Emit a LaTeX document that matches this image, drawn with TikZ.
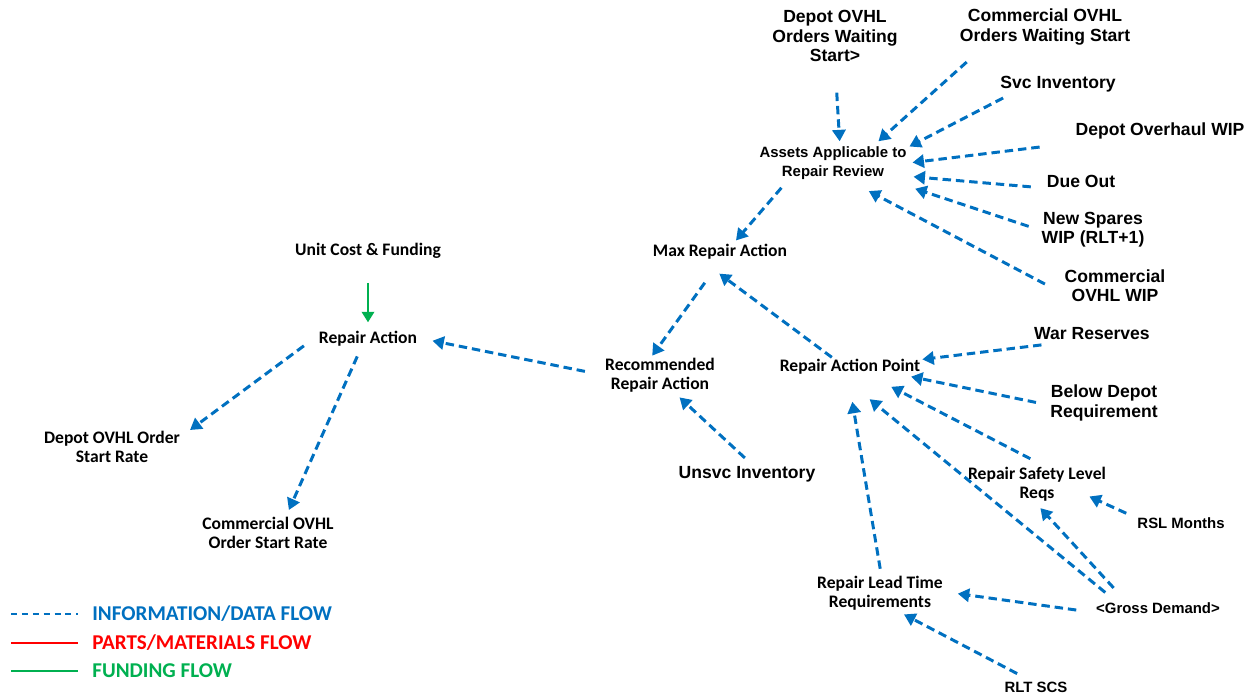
\documentclass[tikz,border=0pt]{standalone}
\usepackage{fontspec}
\setmainfont{Liberation Sans}
\newfontfamily\calfont{Carlito}
\usetikzlibrary{arrows.meta}
\definecolor{infoblue}{RGB}{0,112,192}
\definecolor{partsred}{RGB}{255,0,0}
\definecolor{fundgreen}{RGB}{0,176,80}
\begin{document}
\begin{tikzpicture}[x=0.02cm,y=-0.02cm,
  arl/.style={font=\bfseries\fontsize{10}{11}\selectfont, align=center, inner sep=1pt},
  arls/.style={font=\bfseries\fontsize{8.5}{11}\selectfont, align=center, inner sep=1pt},
  cal/.style={font=\calfont\bfseries\fontsize{10}{11}\selectfont, align=center, inner sep=1pt},
  leg/.style={font=\calfont\bfseries\fontsize{12}{14}\selectfont, anchor=west, inner sep=0pt},
  flow/.style={draw=infoblue, line width=1.7pt, dash pattern=on 4.8pt off 2.8pt,
    -{Triangle[length=6.5pt,width=7.5pt]}},
  fund/.style={draw=fundgreen, line width=1.4pt, -{Triangle[length=6pt,width=7pt]}}]
\useasboundingbox (0,0) rectangle (1253,698);

% nodes
\node[arl] (dow) at (835,36) {Depot OVHL\\Orders Waiting\\Start>};
\node[arl] (cow) at (1045,27) {Commercial OVHL\\Orders Waiting Start};
\node[arl] (svc) at (1058,84) {Svc Inventory};
\node[arl] (dowip) at (1160,131) {Depot Overhaul WIP};
\node[arl] (due) at (1081,181) {Due Out};
\node[arl] (nsw) at (1093,230) {New Spares\\WIP (RLT+1)};
\node[arl] (cwip) at (1115,286) {Commercial\\OVHL WIP};
\node[arls] (aa) at (833,163) {Assets Applicable to\\Repair Review};
\node[cal] (mra) at (720,252) {Max Repair Action};
\node[cal] (ucf) at (368,251) {Unit Cost \& Funding};
\node[cal] (ra) at (368,339) {Repair Action};
\node[cal] (rra) at (660,375) {Recommended\\Repair Action};
\node[cal] (rap) at (850,367) {Repair Action Point};
\node[arl] (war) at (1092,334) {War Reserves};
\node[arl] (bdr) at (1104,403) {Below Depot\\Requirement};
\node[arl] (unsvc) at (747,474) {Unsvc Inventory};
\node[cal] (rsl) at (1037,484) {Repair Safety Level\\Reqs};
\node[arls] (rslm) at (1181,523) {RSL Months};
\node[cal] (rlt) at (880,593) {Repair Lead Time\\Requirements};
\node[arls] (gd) at (1158,608) {<Gross Demand>};
\node[arls] (rltscs) at (1036,687) {RLT SCS};
\node[cal] (dosr) at (112,447) {Depot OVHL Order\\Start Rate};
\node[cal] (cosr) at (268,533) {Commercial OVHL\\Order Start Rate};

% connectors
\draw[flow, shorten <=0.58cm, shorten >=0.06cm] (dow.south) -- (aa.70);
\draw[flow, shorten <=0.45cm, shorten >=0.09cm] (cow.198) -- (aa.24);
\draw[flow, shorten <=0.17cm, shorten >=0.02cm] (svc.192) -- (aa.12);
\draw[flow, shorten <=0.95cm, shorten >=0.08cm] (dowip.188) -- (aa.0);
\draw[flow, shorten <=0.28cm, shorten >=0.10cm] (due.191) -- (aa.-10);
\draw[flow, shorten <=0.23cm, shorten >=0.44cm] (nsw.180) -- (aa.-17);
\draw[flow, shorten <=0.40cm, shorten >=0.40cm] (cwip.188) -- (aa.-46);
\draw[flow, shorten <=0.16cm, shorten >=0.05cm] (aa.202) -- (mra.34);
\draw[flow, shorten <=0.52cm, shorten >=0cm] (mra.-90) -- (rra.112);
\draw[flow, shorten <=0cm, shorten >=0.40cm] (rap.152) -- (mra.-150);
\draw[flow, shorten <=0.37cm, shorten >=0.27cm] (rra.180) -- (ra.1);
\draw[fund, shorten <=0.44cm, shorten >=0.14cm] (ucf.south) -- (ra.north);
\draw[flow, shorten <=0.32cm, shorten >=0.20cm] (ra.177) -- (dosr.9);
\draw[flow, shorten <=0.17cm, shorten >=0.11cm] (ra.233) -- (cosr.44);
\draw[flow, shorten <=0.18cm, shorten >=0.09cm] (unsvc.66) -- (rra.-50);
\draw[flow, shorten <=0.44cm, shorten >=0cm] (war.196) -- (rap.6);
\draw[flow, shorten <=0.25cm, shorten >=0cm] (bdr.182) -- (rap.-9);
\draw[flow, shorten <=0.26cm, shorten >=0.44cm] (rsl.76) -- (rap.-24);
\draw[flow, shorten <=0.25cm, shorten >=0.71cm] (gd.170) -- (rap.-129);
\draw[flow, shorten <=0.10cm, shorten >=0.51cm] (rlt.87) -- (rap.-101);
\draw[flow, shorten <=0.34cm, shorten >=0.13cm] (gd.167) -- (rsl.-93);
\draw[flow, shorten <=0.20cm, shorten >=-0.33cm] (rslm.173) -- (rsl.-16);
\draw[flow, shorten <=0.36cm, shorten >=0.26cm] (gd.184) -- (rlt.1);
\draw[flow, shorten <=0.26cm, shorten >=0.09cm] (rltscs.135) -- (rlt.-44);

% legend
\coordinate (la1) at (11,614); \coordinate (la2) at (78,614);
\coordinate (lb1) at (11,643); \coordinate (lb2) at (78,643);
\coordinate (lc1) at (11,671); \coordinate (lc2) at (78,671);
\draw[infoblue, line width=1pt, dash pattern=on 3.4pt off 2.8pt] (la1) -- (la2);
\draw[partsred, line width=1.3pt] (lb1) -- (lb2);
\draw[fundgreen, line width=1.3pt] (lc1) -- (lc2);
\node[leg, text=infoblue] (lgi) at (92,614) {INFORMATION/DATA FLOW};
\node[leg, text=partsred] (lgp) at (92,643) {PARTS/MATERIALS FLOW};
\node[leg, text=fundgreen] (lgf) at (92,671) {FUNDING FLOW};
\end{tikzpicture}
\end{document}
